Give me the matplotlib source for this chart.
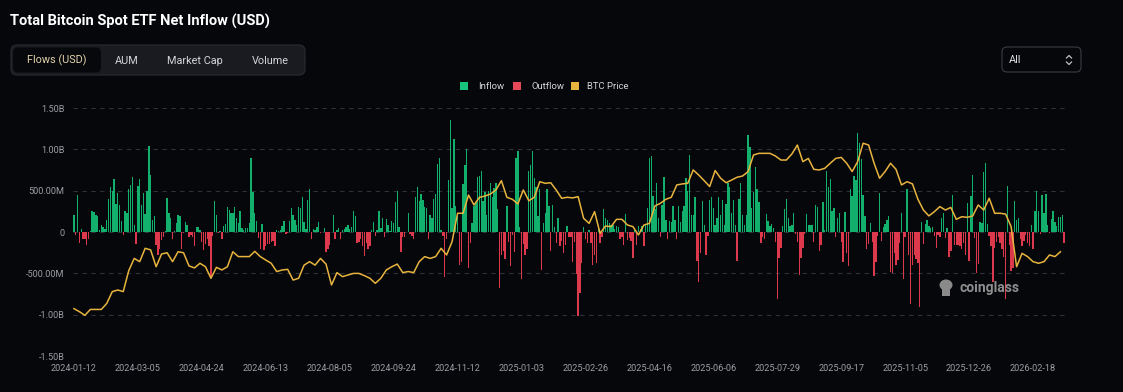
import numpy as np
import matplotlib
matplotlib.use("Agg")
import matplotlib.pyplot as plt
from matplotlib.patches import FancyBboxPatch, Rectangle, Ellipse

# ---------------- data (daily net flow, USD millions) ----------------
flows_2024_h1 = [200, -40, 450, -130, 40, -90, -90, -160, -90, 10,
                 250, 240, 200, 190, 30, 80, 60, 40, 145, 400,
                 540, 490, 640, 340, 475, 330, 130, -40, 250, 230,
                 515, 570, 670, 90, -145, 555, 645, 330, 470, 220,
                 500, 1040, 685, 140, 190, -160, -280, -210, -100, -55,
                 8, 415, 230, 175, -90, 10, 105, 200, 190, -200,
                 -15, 120, 80, -65, -40, -65, -170, 65, 65, 25,
                 -120, -220, -150, -90, -170, -550, -50, 370, 210, -15,
                 15, -90, 70, 95, 300, 265, 230, 230, 305, 170,
                 105, 250, 50, 30, 50, 50, 105, 890, 485, 225,
                 130, -70, -200, 95, -220, -170, -150]
flows_2024_h2 = [-150, -120, -110, -175, 25, 15, 25, 70, 130, -20,
                 -15, 135, 290, 210, 150, 80, 305, 290, 420, 115,
                 40, 385, 525, -80, 40, 25, 55, 120, -15, 5,
                 50, -240, -200, -155, 5, 200, -90, 30, 50, -90,
                 25, 40, 65, 80, 40, 65, 250, 195, -130, -120,
                 -90, -170, -290, -130, -210, -170, 25, 115, -50, 25,
                 260, 50, 175, -55, 160, 90, 15, 135, 105, 360,
                 490, 55, -240, -65, -55, 5, 225, -30, -50, -80,
                 425, 550, 370, 460, 385, 300, 290, -80, 200, 175,
                 400, 465, 820, 895, 25, -50, -540, -80, 630, 1360,
                 290, 1120, 315, 195, -400, -360, 580, 805, 1000]
flows_2025_h1 = [-435, -130, 105, 315, 345, 670, 675, 740, 375, 485,
                 210, 500, 595, 425, 530, 590, 275, -675, -275, -225,
                 -330, 315, -120, -410, -40, -240, 900, 975, 55, -565,
                 -150, -280, -210, 740, 805, 975, 650, 550, 195, 515,
                 -460, 105, 225, 515, 315, -225, 330, 65, -135, 170,
                 -175, -105, -250, -155, 70, -65, -65, -365, -120, -510,
                 -1015, -740, -370, 65, -80, -135, 25, -135, -400, -275,
                 -370, 55, -135, -55, 275, 175, 150, 105, 80, 90,
                 40, 70, 65, -80, -65, -155, 220, -95, -70, -105,
                 -320, 30, -155, 70, 40, 70, -170, 90, 290, 900,
                 920, 435, 275, 590, 170, -55, 330]
flows_2025_h2 = [670, 150, -80, 135, 115, 315, 150, -90, 315, 115,
                 260, 320, 650, 490, 935, 210, 210, 420, -345, -610,
                 -260, 370, 80, -275, -50, 385, 425, 290, 80, 170,
                 425, 210, 385, 90, 340, 590, 550, 225, 385, 90,
                 -345, 400, 595, 210, 90, 210, 1170, 1030, 290, 485,
                 790, 515, 365, -130, -65, -90, 220, 135, 70, 95,
                 50, -115, -815, -320, -195, 70, 275, 400, 175, 70,
                 90, 225, -30, -120, -525, -315, -195, -25, 220, 90,
                 90, 90, -120, 330, 300, -225, -160, 365, 25, 740,
                 540, 645, 260, 290, -55, 170, 225, -120, -365, 240,
                 -260, -410, 515, 435, 675, 630, 1195, 1080, 880]
flows_2025_q4_2026 = [450, 195, -210, -150, 105, -115, -530, -365, -50, 475,
                      -105, 65, 95, 150, 195, -485, -500, -250, -400, -340,
                      -130, 235, -565, -65, 515, -280, -870, -400, -275, -330,
                      -380, -910, 115, -145, 95, 150, 70, 50, 65, -50,
                      -195, -40, -55, 170, 235, -75, 50, -300, -235, 450,
                      -155, -160, -155, -170, -200, -135, -275, 345, -345, 435,
                      695, -75, -490, -385, 115, 105, 725, 840, 95, -50,
                      -175, -610, -195, -115, -55, -130, -210, -305, -815, 555,
                      -160, -475, -435, 370, 145, 170, -80, -170, -105, -40,
                      -130, -175, 80, -200, 260, 500, 260, -25, 450, 235,
                      460, 90, -15, 160, 250, 115, 70, 185, 185, 200,
                      -130]

# BTC price (thousand USD), sampled every 3rd trading day
btc_2024_h1 = [41.7, 40.2, 38.4, 41.3, 41.3, 41.3, 44.3, 50.1, 50.9, 50.1,
               60.4, 66.5, 64.9, 71.5, 70.7, 62.4, 68.7, 69.3, 64.9, 69.8,
               69.3, 62.8, 61.8, 64.1, 62.4, 56.7, 62.1, 60.8, 62.4, 69.8,
               67.4, 67.4, 67.4, 70.0, 67.4, 65.7]
btc_2024_h2 = [64.1, 60.0, 60.8, 61.1, 55.8, 56.7, 63.2, 64.9, 63.2, 66.5,
               63.7, 53.4, 59.5, 57.5, 58.3, 59.1, 59.1, 58.0, 56.7, 54.2,
               56.7, 60.8, 62.4, 63.7, 59.5, 60.0, 59.5, 64.9, 67.4, 66.5,
               67.4, 71.5, 68.2, 74.8, 88.8, 88.8, 97.8]
btc_2025_h1 = [92.9, 96.7, 97.3, 98.3, 100.3, 104.9, 96.7, 95.7, 93.4, 100.3,
               95.0, 96.7, 104.4, 103.6, 103.9, 100.3, 96.2, 96.7, 96.4, 97.0,
               86.3, 83.8, 89.6, 78.9, 82.5, 82.2, 85.8, 85.8, 83.0, 82.2,
               78.1, 83.0, 83.8, 92.4, 93.7, 95.7]
btc_2025_h2 = [96.7, 102.8, 103.3, 103.6, 110.2, 107.7, 104.9, 102.0, 109.9, 106.1,
               103.9, 105.2, 106.6, 107.2, 109.4, 117.6, 118.4, 118.4, 118.4, 117.1,
               115.1, 115.1, 118.1, 122.5, 114.3, 115.9, 110.5, 110.2, 111.0, 113.5,
               115.9, 116.4, 113.5, 109.4, 114.3, 123.4]
btc_2025_q4_2026 = [122.5, 113.5, 106.1, 109.4, 113.5, 110.5, 102.8, 104.4, 103.3, 95.7,
                    90.4, 87.5, 89.6, 92.1, 90.4, 91.7, 85.8, 87.1, 86.8, 87.5,
                    92.9, 90.4, 96.2, 88.8, 88.8, 88.4, 82.2, 62.4, 69.0, 67.4,
                    64.9, 64.1, 64.9, 68.2, 67.4, 69.8]

x_tick_labels = ["2024-01-12", "2024-03-05", "2024-04-24", "2024-06-13", "2024-08-05",
                 "2024-09-24", "2024-11-12", "2025-01-03", "2025-02-26", "2025-04-16",
                 "2025-06-06", "2025-07-29", "2025-09-17", "2025-11-05", "2025-12-26",
                 "2026-02-18"]
y_ticks = [-1.5, -1.0, -0.5, 0, 0.5, 1.0, 1.5]
y_tick_labels = ["-1.50B", "-1.00B", "-500.00M", "0", "500.00M", "1.00B", "1.50B"]
TICK_STEP = 35
PRICE_STEP = 3

flows = np.array(flows_2024_h1 + flows_2024_h2 + flows_2025_h1 + flows_2025_h2
                 + flows_2025_q4_2026, dtype=float) / 1000.0  # billions
btc = np.array(btc_2024_h1 + btc_2024_h2 + btc_2025_h1 + btc_2025_h2 + btc_2025_q4_2026)

# ---------------- style ----------------
BG = "#05070b"
GREEN = "#12b06c"
RED = "#dc3a4c"
GOLD = "#e8b43e"
TXT = "#9c9ea3"
FONT = "Roboto"
plt.rcParams["font.family"] = [FONT, "DejaVu Sans"]

W, H = 1123, 392
fig = plt.figure(figsize=(W / 100, H / 100), dpi=100, facecolor=BG)

L, R, T, B = 73, 1065, 108, 356
ax = fig.add_axes([L / W, 1 - B / H, (R - L) / W, (B - T) / H])
ax.set_facecolor(BG)

n = len(flows)
idx = np.arange(n)
cols = np.where(flows >= 0, GREEN, RED)
ax.bar(idx, flows, width=0.75, color=cols, linewidth=0, zorder=2, antialiased=False)
ax.set_xlim(-0.5, n - 0.5)
ax.set_ylim(-1.5, 1.5)
ax.set_yticks(y_ticks)
ax.set_yticklabels(y_tick_labels)
ax.set_xticks(idx[::TICK_STEP][:len(x_tick_labels)])
ax.set_xticklabels(x_tick_labels)
ax.tick_params(axis="both", length=0, colors=TXT, labelsize=6.6)
ax.tick_params(axis="y", pad=6)
ax.tick_params(axis="x", pad=6)
ax.yaxis.grid(True, linestyle=(0, (4, 4)), color="#2e3137", linewidth=0.8, zorder=0)
ax.set_axisbelow(True)
for s in ax.spines.values():
    s.set_visible(False)

ax2 = ax.twinx()
ax2.plot(np.arange(len(btc)) * PRICE_STEP, btc, color=GOLD, linewidth=1.1, zorder=3)
ax2.set_ylim(18.3, 140.8)
ax2.set_yticks([])
for s in ax2.spines.values():
    s.set_visible(False)

# ---------------- overlay (title, tabs, legend, watermark) ----------------
ov = fig.add_axes([0, 0, 1, 1])
ov.set_xlim(0, W)
ov.set_ylim(H, 0)
ov.axis("off")
ov.patch.set_alpha(0)

ov.text(10, 21, "Total Bitcoin Spot ETF Net Inflow (USD)", fontsize=10.5,
        fontweight="bold", color="white", va="center", ha="left")

ov.add_patch(FancyBboxPatch((11, 45), 294, 30, boxstyle="round,pad=0,rounding_size=6",
                            fc="#1a1b20", ec="#2b2c32", lw=0.8))
ov.add_patch(FancyBboxPatch((13, 47.5), 88, 25, boxstyle="round,pad=0,rounding_size=5",
                            fc="#07080b", ec="none"))
ov.text(57, 60.5, "Flows (USD)", fontsize=7.8, color="#e3d2ad", ha="center", va="center")
for label, cx in [("AUM", 127), ("Market Cap", 195), ("Volume", 270)]:
    ov.text(cx, 60.5, label, fontsize=7.8, color="#d4d5d8", ha="center", va="center")

ov.add_patch(FancyBboxPatch((1002, 47), 79, 25, boxstyle="round,pad=0,rounding_size=5",
                            fc=BG, ec="#3a3c42", lw=0.8))
ov.text(1009, 60, "All", fontsize=7.8, color="#e0e0e0", ha="left", va="center")
ov.plot([1066.5, 1069, 1071.5], [58, 55.5, 58], color="#c0c0c0", lw=0.9)
ov.plot([1066.5, 1069, 1071.5], [62, 64.5, 62], color="#c0c0c0", lw=0.9)

for (sx, tx, label, c) in [(460, 478, "Inflow", "#16c47c"),
                           (513, 531, "Outflow", "#e8485a"),
                           (571, 587, "BTC Price", "#e8b43e")]:
    ov.add_patch(Rectangle((sx, 82), 8, 8, fc=c, ec="none"))
    ov.text(tx, 86.5, label, fontsize=6.8, color="#d6d6d8", ha="left", va="center")

# watermark
ov.add_patch(Ellipse((946, 285), 13, 11, fc="#8a8a8a", ec="none"))
ov.add_patch(Rectangle((942, 287), 8, 9, fc="#8a8a8a", ec="none"))
ov.text(960, 288, "coinglass", fontsize=10, fontweight="bold", color="#8e8e8e",
        ha="left", va="center")

fig.savefig("out.png", dpi=100, facecolor=BG)
